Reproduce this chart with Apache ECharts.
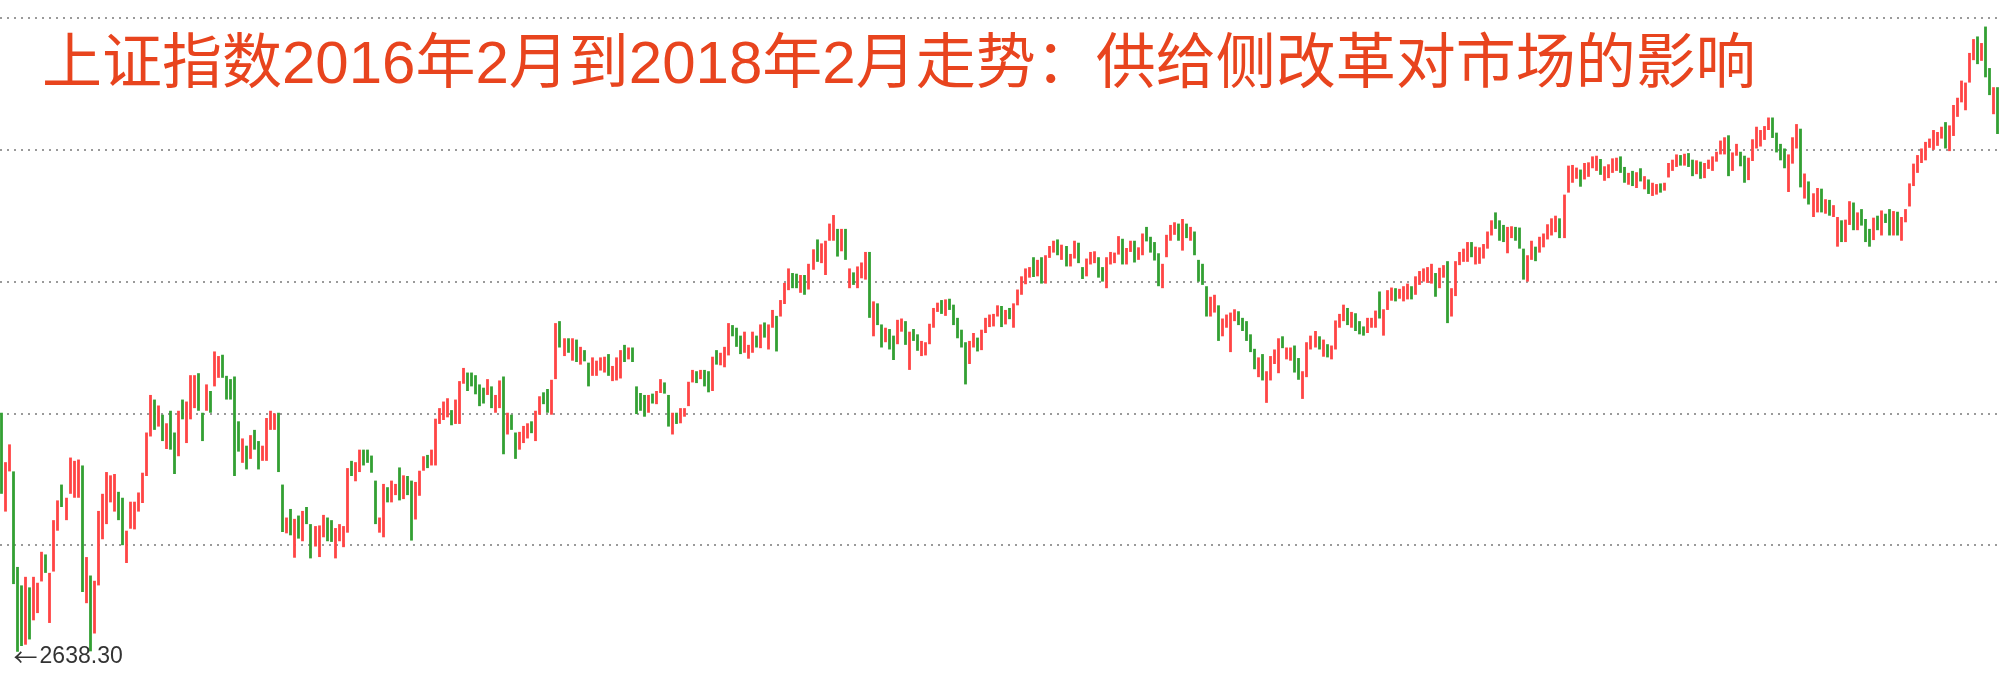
<!DOCTYPE html>
<html><head><meta charset="utf-8">
<script src="https://cdn.jsdelivr.net/npm/echarts@6/dist/echarts.min.js"></script>
<style>html,body{margin:0;padding:0;background:#fff}#c{width:2000px;height:685px}</style>
</head><body><div id="c"></div>
<script>
const titleText = '上证指数2016年2月到2018年2月走势：供给侧改革对市场的影响';
const monthDays = [
 ['2016-01','21 22 25 26 27 28 29'],
 ['2016-02','01 02 03 04 05 15 16 17 18 19 22 23 24 25 26 29'],
 ['2016-03','01 02 03 04 07 08 09 10 11 14 15 16 17 18 21 22 23 24 25 28 29 30 31'],
 ['2016-04','01 05 06 07 08 11 12 13 14 15 18 19 20 21 22 25 26 27 28 29'],
 ['2016-05','03 04 05 06 09 10 11 12 13 16 17 18 19 20 23 24 25 26 27 30 31'],
 ['2016-06','01 02 03 06 07 08 13 14 15 16 17 20 21 22 23 24 27 28 29 30'],
 ['2016-07','01 04 05 06 07 08 11 12 13 14 15 18 19 20 21 22 25 26 27 28 29'],
 ['2016-08','01 02 03 04 05 08 09 10 11 12 15 16 17 18 19 22 23 24 25 26 29 30 31'],
 ['2016-09','01 02 05 06 07 08 09 12 13 14 19 20 21 22 23 26 27 28 29 30'],
 ['2016-10','10 11 12 13 14 17 18 19 20 21 24 25 26 27 28 31'],
 ['2016-11','01 02 03 04 07 08 09 10 11 14 15 16 17 18 21 22 23 24 25 28 29 30'],
 ['2016-12','01 02 05 06 07 08 09 12 13 14 15 16 19 20 21 22 23 26 27 28 29 30'],
 ['2017-01','03 04 05 06 09 10 11 12 13 16 17 18 19 20 23 24 25 26'],
 ['2017-02','03 06 07 08 09 10 13 14 15 16 17 20 21 22 23 24 27 28'],
 ['2017-03','01 02 03 06 07 08 09 10 13 14 15 16 17 20 21 22 23 24 27 28 29 30 31'],
 ['2017-04','05 06 07 10 11 12 13 14 17 18 19 20 21 24 25 26 27 28'],
 ['2017-05','02 03 04 05 08 09 10 11 12 15 16 17 18 19 22 23 24 25 26 31'],
 ['2017-06','01 02 05 06 07 08 09 12 13 14 15 16 19 20 21 22 23 26 27 28 29 30'],
 ['2017-07','03 04 05 06 07 10 11 12 13 14 17 18 19 20 21 24 25 26 27 28 31'],
 ['2017-08','01 02 03 04 07 08 09 10 11 14 15 16 17 18 21 22 23 24 25 28 29 30 31'],
 ['2017-09','01 04 05 06 07 08 11 12 13 14 15 18 19 20 21 22 25 26 27 28 29'],
 ['2017-10','09 10 11 12 13 16 17 18 19 20 23 24 25 26 27 30 31'],
 ['2017-11','01 02 03 06 07 08 09 10 13 14 15 16 17 20 21 22 23 24 27 28 29 30'],
 ['2017-12','01 04 05 06 07 08 11 12 13 14 15 18 19 20 21 22 25 26 27 28 29'],
 ['2018-01','02 03 04 05 08 09 10 11 12 15 16 17 18 19 22 23 24 25 26 29 30 31'],
 ['2018-02','01']
];
const dates = monthDays.flatMap(([m, d]) => d.split(' ').map(x => m + '-' + x));

// daily bars: [open, close, low, high]
const ohlc = [
 // 2016-01
 [2977,2880,2878,3001],[2867,2916,2851,2926],[2920,2938,2912,2953],[2910,2750,2741,2912],[2755,2736,2638.30,2767],[2733,2656,2647,2739],[2662,2738,2649,2752],
 // 2016-02
 [2733,2689,2657,2736],[2697,2750,2686,2752],[2720,2739,2697,2743],[2750,2781,2745,2790],[2784,2763,2758,2786],[2682,2746,2682,2758],[2760,2837,2760,2838],[2830,2867,2822,2868],
 [2880,2863,2858,2892],[2855,2860,2838,2872],[2880,2927,2878,2933],[2885,2903,2872,2928],[2895,2929,2872,2930],[2919,2741,2729,2921],[2735,2767,2712,2782],[2752,2688,2638.96,2754],
 // 2016-03
 [2686,2733,2666,2746],[2740,2850,2739,2852],[2830,2860,2809,2878],[2845,2874,2832,2911],[2880,2897,2865,2906],[2890,2901,2851,2908],[2880,2863,2838,2881],[2860,2805,2800,2872],
 [2790,2810,2773,2822],[2825,2860,2825,2866],[2845,2864,2824,2866],[2865,2870,2851,2880],[2880,2905,2864,2910],[2905,2955,2905,2971],[2965,3019,2965,3028],[3013,2999,2975,3021],
 [2998,3010,2980,3012],[2995,2961,2958,2998],[2960,2979,2946,2985],[2998,2958,2945,3004],[2955,2920,2908,2971],[2935,3001,2935,3004],[3015,3004,2991,3021],
 // 2016-04
 [2980,3010,2955,3018],[2995,3053,2991,3058],[3045,3051,3008,3058],[3055,3008,3004,3061],[2995,2985,2958,3001],[3005,3034,3004,3044],[3032,3024,3001,3034],[3045,3067,3041,3094],
 [3060,3082,3054,3087],[3085,3078,3054,3089],[3050,3034,3021,3057],[3048,3043,3021,3052],[3050,2973,2905,3056],[2975,2953,2942,2988],[2935,2959,2925,2962],[2950,2947,2915,2951],
 [2940,2965,2931,2967],[2965,2954,2945,2975],[2953,2946,2915,2958],[2930,2938,2928,2951],
 // 2016-05
 [2936,2993,2928,2993],[2980,2991,2975,3004],[2985,2998,2975,3000],[2998,2913,2911,3001],[2892,2832,2820,2892],[2820,2833,2818,2842],[2850,2837,2815,2855],[2825,2836,2781,2840],
 [2833,2827,2810,2845],[2820,2851,2806,2852],[2853,2844,2832,2858],[2830,2808,2780,2832],[2800,2807,2798,2829],[2800,2825,2782,2830],[2825,2844,2812,2846],[2840,2822,2806,2842],
 [2830,2815,2805,2838],[2810,2822,2780,2826],[2815,2821,2806,2832],[2812,2822,2797,2829],[2822,2917,2819,2917],
 // 2016-06
 [2918,2914,2905,2928],[2907,2925,2897,2926],[2920,2939,2911,2945],[2940,2934,2921,2945],[2940,2936,2925,2945],[2935,2927,2910,2936],[2895,2833,2832,2898],[2830,2842,2819,2842],
 [2820,2887,2812,2893],[2885,2873,2865,2888],[2870,2885,2865,2898],[2885,2889,2876,2893],[2895,2879,2868,2918],[2880,2906,2870,2906],[2902,2892,2876,2905],[2880,2854,2807,2898],
 [2850,2896,2839,2896],[2890,2913,2875,2913],[2915,2932,2913,2935],[2933,2930,2917,2937],
 // 2016-07
 [2925,2932,2921,2945],[2925,2989,2921,2992],[2985,3006,2984,3008],[2995,3017,2990,3018],[3005,3017,2994,3023],[3000,2988,2982,3005],[2985,2995,2984,3021],[2992,3049,2984,3049],
 [3047,3061,3045,3069],[3058,3054,3034,3062],[3058,3054,3041,3062],[3055,3044,3029,3058],[3043,3037,3011,3044],[3035,3028,3015,3039],[3030,3039,3028,3052],[3035,3013,3008,3041],
 [3005,3016,3001,3028],[3015,3050,3008,3050],[3050,2992,2938,3056],[2975,2994,2968,3001],[2995,2979,2975,2998],
 // 2016-08
 [2970,2953,2931,2971],[2950,2971,2945,2972],[2960,2978,2955,2981],[2975,2982,2962,2985],[2985,2977,2970,2988],[2965,3004,2958,3004],[3002,3026,2998,3026],[3025,3019,3014,3032],
 [3020,3003,3001,3037],[3000,3051,2998,3051],[3052,3125,3052,3137],[3128,3110,3100,3140],[3100,3109,3087,3114],[3110,3104,3092,3114],[3095,3108,3080,3114],[3105,3085,3078,3112],
 [3080,3090,3074,3101],[3092,3086,3079,3096],[3075,3068,3041,3077],[3065,3070,3057,3085],[3062,3070,3057,3080],[3068,3075,3065,3085],[3072,3085,3062,3086],
 // 2016-09
 [3085,3063,3057,3090],[3058,3067,3049,3072],[3065,3072,3050,3085],[3062,3091,3053,3096],[3093,3092,3078,3104],[3090,3096,3082,3100],[3094,3079,3078,3100],[3035,3022,2999,3041],
 [3028,3024,3004,3031],[3020,3003,2995,3028],[3005,3026,3001,3028],[3028,3023,3015,3030],[3020,3026,3014,3034],[3035,3042,3031,3052],[3045,3034,3030,3047],[3025,2980,2980,3028],
 [2975,2998,2968,3001],[2998,2988,2984,3001],[2992,2999,2985,3008],[2998,3005,2995,3008],
 // 2016-10
 [3012,3048,3011,3048],[3050,3065,3047,3066],[3062,3058,3046,3064],[3055,3061,3052,3066],[3066,3064,3041,3066],[3062,3041,3032,3064],[3035,3084,3034,3086],[3088,3085,3074,3096],
 [3082,3084,3073,3092],[3080,3091,3070,3101],[3092,3128,3088,3137],[3133,3132,3117,3134],[3128,3116,3101,3130],[3118,3112,3090,3118],[3100,3104,3092,3124],[3095,3100,3083,3104],
 // 2016-11
 [3098,3122,3092,3124],[3115,3103,3100,3118],[3100,3129,3099,3135],[3131,3125,3115,3138],[3118,3133,3097,3135],[3135,3148,3130,3157],[3145,3128,3094,3148],[3150,3171,3147,3172],
 [3170,3196,3166,3198],[3192,3210,3187,3220],[3208,3207,3190,3213],[3206,3205,3190,3212],[3200,3208,3183,3210],[3205,3193,3180,3210],[3190,3218,3188,3227],[3220,3248,3218,3249],
 [3250,3241,3230,3264],[3235,3242,3228,3258],[3230,3262,3210,3262],[3265,3277,3262,3288],[3280,3283,3262,3301],[3275,3250,3238,3280],
 // 2016-12
 [3250,3273,3246,3280],[3270,3244,3233,3280],[3195,3205,3190,3220],[3210,3200,3195,3214],[3195,3222,3190,3223],[3210,3215,3205,3229],[3208,3233,3203,3245],[3230,3153,3145,3245],
 [3130,3155,3117,3170],[3160,3141,3134,3167],[3130,3118,3100,3135],[3110,3123,3108,3130],[3125,3118,3097,3128],[3115,3103,3081,3118],[3105,3137,3105,3142],[3135,3140,3124,3144],
 [3138,3110,3104,3140],[3100,3123,3066,3124],[3125,3115,3110,3128],[3114,3102,3095,3120],[3093,3096,3087,3110],[3095,3104,3088,3108],
 // 2017-01
 [3105,3136,3105,3136],[3133,3159,3130,3160],[3157,3165,3154,3168],[3163,3154,3151,3172],[3150,3171,3148,3173],[3168,3162,3157,3174],[3160,3137,3134,3165],[3135,3119,3114,3145],
 [3118,3113,3100,3127],[3108,3103,3044,3108],[3095,3109,3075,3110],[3105,3113,3100,3122],[3111,3101,3094,3115],[3100,3123,3096,3127],[3123,3137,3122,3145],[3138,3143,3131,3150],
 [3140,3150,3132,3151],[3150,3159,3147,3164],
 // 2017-02
 [3160,3140,3131,3163],[3140,3157,3135,3157],[3155,3153,3143,3160],[3150,3167,3130,3167],[3168,3183,3164,3188],[3185,3197,3180,3208],[3200,3217,3196,3220],[3213,3218,3206,3222],
 [3222,3213,3207,3237],[3210,3230,3208,3233],[3232,3202,3197,3237],[3200,3240,3197,3240],[3240,3253,3236,3254],[3252,3261,3244,3262],[3260,3251,3240,3264],[3246,3253,3233,3256],
 [3252,3229,3223,3254],[3225,3242,3223,3242],
 // 2017-03
 [3236,3247,3235,3262],[3250,3230,3228,3259],[3220,3218,3204,3222],[3212,3234,3208,3235],[3230,3242,3226,3245],[3236,3241,3228,3246],[3234,3217,3206,3237],[3215,3213,3200,3222],
 [3200,3237,3190,3237],[3232,3239,3226,3245],[3232,3242,3228,3244],[3245,3269,3241,3269],[3262,3237,3226,3265],[3232,3251,3226,3251],[3253,3261,3245,3262],[3255,3245,3229,3262],
 [3240,3248,3233,3252],[3245,3269,3240,3273],[3270,3267,3261,3283],[3264,3253,3244,3268],[3253,3241,3232,3260],[3240,3210,3193,3243],[3200,3223,3190,3227],
 // 2017-04
 [3237,3270,3237,3271],[3265,3281,3262,3286],[3281,3287,3271,3290],[3284,3269,3262,3288],[3260,3289,3247,3295],[3285,3274,3266,3288],[3270,3276,3262,3283],[3275,3246,3240,3276],
 [3232,3222,3200,3233],[3222,3197,3195,3227],[3190,3171,3147,3193],[3160,3172,3147,3177],[3165,3173,3153,3180],[3160,3130,3110,3164],[3125,3135,3117,3144],[3135,3141,3130,3150],
 [3135,3152,3093,3153],[3148,3155,3140,3158],
 // 2017-05
 [3152,3144,3134,3155],[3140,3135,3125,3145],[3133,3127,3110,3140],[3117,3103,3093,3120],[3095,3079,3067,3098],[3070,3081,3055,3085],[3080,3053,3050,3090],[3040,3062,3016,3064],
 [3050,3084,3050,3087],[3080,3090,3075,3097],[3088,3113,3061,3114],[3110,3104,3099,3117],[3085,3090,3082,3100],[3085,3091,3080,3100],[3090,3076,3062,3103],[3072,3062,3051,3084],
 [3050,3064,3022,3064],[3060,3108,3055,3108],[3105,3110,3097,3118],[3110,3117,3100,3125],
 // 2017-06
 [3115,3103,3097,3117],[3100,3106,3086,3112],[3100,3092,3085,3105],[3090,3102,3082,3103],[3100,3140,3097,3141],[3135,3150,3130,3151],[3148,3158,3140,3165],[3155,3140,3134,3160],
 [3140,3154,3130,3154],[3150,3131,3125,3152],[3135,3132,3120,3140],[3130,3123,3118,3132],[3125,3144,3122,3145],[3138,3140,3130,3145],[3135,3156,3130,3156],[3160,3147,3144,3185],
 [3140,3158,3118,3158],[3160,3185,3157,3187],[3185,3191,3171,3191],[3188,3173,3170,3190],[3177,3188,3174,3189],[3185,3192,3170,3193],
 // 2017-07
 [3190,3196,3173,3197],[3190,3183,3173,3193],[3180,3207,3180,3208],[3205,3212,3195,3216],[3210,3218,3200,3220],[3208,3213,3198,3222],[3200,3203,3197,3227],[3208,3198,3177,3213],
 [3195,3218,3190,3221],[3215,3222,3206,3225],[3222,3176,3137,3231],[3165,3188,3147,3190],[3183,3231,3178,3231],[3228,3245,3225,3245],[3235,3238,3230,3250],[3235,3251,3230,3260],
 [3250,3244,3237,3260],[3240,3248,3226,3253],[3242,3250,3227,3252],[3245,3253,3235,3257],[3253,3273,3250,3276],
 // 2017-08
 [3275,3293,3270,3293],[3292,3285,3280,3305],[3285,3273,3262,3293],[3275,3262,3260,3286],[3255,3279,3243,3283],[3276,3282,3266,3284],[3280,3276,3262,3283],[3276,3262,3250,3282],
 [3250,3209,3203,3250],[3215,3237,3200,3240],[3240,3251,3233,3262],[3250,3246,3231,3253],[3245,3268,3244,3268],[3260,3269,3252,3273],[3270,3287,3264,3287],[3286,3290,3270,3296],
 [3285,3288,3275,3300],[3290,3272,3266,3296],[3270,3332,3266,3332],[3335,3363,3335,3376],[3363,3365,3350,3377],[3362,3364,3356,3373],[3366,3361,3344,3370],
 // 2017-09
 [3363,3367,3355,3380],[3365,3380,3359,3381],[3378,3384,3372,3390],[3380,3385,3368,3391],[3385,3366,3362,3386],[3364,3365,3353,3375],[3360,3376,3357,3378],[3376,3379,3365,3387],
 [3376,3384,3368,3388],[3384,3371,3365,3390],[3368,3354,3350,3374],[3353,3363,3347,3365],[3365,3357,3345,3368],[3355,3366,3342,3366],[3367,3358,3352,3372],[3352,3353,3340,3360],
 [3350,3342,3333,3355],[3337,3344,3330,3350],[3340,3345,3332,3348],[3345,3340,3335,3349],[3340,3349,3338,3350],
 // 2017-10
 [3373,3374,3358,3380],[3372,3383,3368,3385],[3382,3388,3374,3393],[3388,3386,3376,3392],[3385,3391,3376,3394],[3392,3378,3374,3395],[3375,3372,3360,3385],[3370,3382,3363,3384],
 [3380,3370,3356,3382],[3364,3379,3357,3380],[3377,3381,3371,3385],[3381,3388,3368,3390],[3386,3397,3382,3397],[3395,3408,3393,3414],[3400,3417,3393,3419],[3412,3390,3360,3422],
 [3385,3393,3368,3396],
 // 2017-11
 [3395,3396,3391,3409],[3390,3383,3375,3397],[3381,3372,3350,3391],[3362,3388,3354,3388],[3386,3414,3383,3416],[3410,3415,3402,3435],[3413,3428,3405,3430],[3423,3433,3415,3436],
 [3434,3448,3430,3449],[3447,3430,3418,3449],[3423,3403,3396,3426],[3400,3399,3384,3409],[3396,3383,3372,3402],[3370,3392,3336,3393],[3385,3411,3379,3419],[3410,3430,3402,3439],
 [3430,3352,3343,3432],[3340,3354,3326,3364],[3350,3322,3317,3352],[3305,3334,3298,3334],[3325,3338,3305,3342],[3335,3317,3305,3341],
 // 2017-12
 [3310,3318,3303,3325],[3315,3310,3300,3324],[3300,3304,3298,3316],[3290,3294,3253,3298],[3290,3272,3260,3293],[3270,3290,3260,3294],[3292,3322,3286,3322],[3318,3281,3278,3320],
 [3282,3303,3278,3305],[3300,3292,3285,3310],[3288,3266,3260,3295],[3270,3268,3253,3280],[3268,3297,3263,3297],[3295,3288,3278,3300],[3280,3300,3270,3308],[3300,3297,3289,3303],
 [3295,3280,3270,3310],[3278,3306,3270,3307],[3303,3276,3270,3306],[3269,3296,3262,3298],[3296,3307,3290,3310],
 // 2018-01
 [3314,3348,3314,3349],[3347,3369,3345,3379],[3371,3386,3365,3392],[3387,3392,3380,3402],[3392,3409,3384,3412],[3407,3414,3403,3417],[3410,3422,3400,3430],[3415,3425,3406,3427],
 [3421,3429,3417,3435],[3432,3410,3402,3442],[3403,3437,3398,3437],[3437,3445,3421,3468],[3455,3475,3450,3479],[3475,3488,3472,3505],[3478,3501,3460,3502],[3502,3546,3502,3547],
 [3546,3559,3536,3568],[3555,3548,3530,3572],[3540,3558,3535,3562],[3563,3523,3510,3587],[3512,3488,3483,3524],[3479,3481,3454,3495],
 // 2018-02
 [3478,3447,3424,3495]
];

const yMin = 2600, yMax = 3600, yStep = 200;
const upColor = '#ff4545', downColor = '#33a033';

const chart = echarts.init(document.getElementById('c'));
chart.setOption({
  animation: false,
  backgroundColor: '#ffffff',
  title: {
    text: titleText, left: 37, top: 31,
    textStyle: { fontSize: 60, fontWeight: 'normal', color: '#e8441e',
      fontFamily: "'Liberation Sans','Noto Sans CJK SC',sans-serif" }
  },
  grid: { left: 0, right: 0, top: 18, bottom: 8 },
  xAxis: { type: 'category', data: dates, boundaryGap: true,
    axisLine: { show: false }, axisTick: { show: false }, axisLabel: { show: false }, splitLine: { show: false } },
  yAxis: { type: 'value', min: yMin, max: yMax, interval: yStep,
    axisLine: { show: false }, axisTick: { show: false }, axisLabel: { show: false },
    splitLine: { show: true, showMinLine: false, showMaxLine: true,
      lineStyle: { color: '#9a9a9a', width: 2, type: [2, 5] } } },
  series: [{
    type: 'candlestick', data: ohlc, barWidth: 1,
    itemStyle: { color: upColor, color0: downColor, borderColor: upColor, borderColor0: downColor, borderWidth: 2.8 },
    markPoint: {
      symbol: 'circle', symbolSize: 1, itemStyle: { color: 'rgba(0,0,0,0)' },
      data: [{ type: 'min', valueDim: 'lowest' }],
      label: { show: true, position: 'right', distance: 0, offset: [-5, 5],
        formatter: p => '{a|←}{b|' + Number(p.value).toFixed(2) + '}',
        rich: {
          a: { color: '#333', fontSize: 24, fontFamily: "'Noto Sans CJK SC',sans-serif", padding: [0, 2, 0, 0] },
          b: { color: '#333', fontSize: 23, fontFamily: "'Liberation Sans',sans-serif" }
        } }
    }
  }]
});
</script></body></html>
